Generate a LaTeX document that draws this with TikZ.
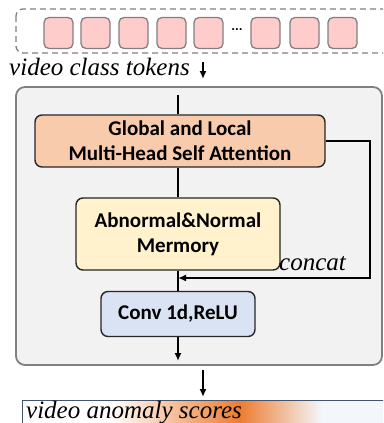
\documentclass[tikz,border=0pt]{standalone}
\usepackage{fontspec}
\setmainfont{Liberation Serif}
\newfontfamily\capfont{Liberation Serif}
\newfontfamily\boxfont{Carlito}
\definecolor{tokenfill}{HTML}{FFCCCC}
\definecolor{attfill}{HTML}{F8CBAD}
\definecolor{memfill}{HTML}{FFF2CC}
\definecolor{convfill}{HTML}{DAE3F3}
\definecolor{panelfill}{HTML}{F2F2F2}
\definecolor{scoreorange}{HTML}{ED7D31}
\definecolor{scoreblue}{HTML}{F3F7FC}
\definecolor{scoreframe}{HTML}{44546A}
\tikzset{
  token/.style={draw=gray, line width=1.3pt, fill=tokenfill, rounded corners=5pt,
    minimum width=29pt, minimum height=31pt, inner sep=0pt},
  block/.style={draw=black!85, line width=1.4pt, rounded corners=7pt, align=center,
    inner sep=0pt, font=\boxfont\bfseries\fontsize{21}{25}\selectfont},
  flow/.style={line width=2pt},
  flowarrow/.style={flow, -{Latex[length=8pt,width=7pt]}},
  caption/.style={font=\capfont\itshape\fontsize{25}{26}\selectfont, inner sep=0pt},
}
\usetikzlibrary{arrows.meta}
\begin{document}
\begin{tikzpicture}[x=1pt,y=-1pt]
      \newcommand\MidX{178}
      \newcommand\OutX{203}
      \clip (0,0) rectangle (383,423);
      % token strip
      \draw[gray, line width=1.3pt, dash pattern=on 6pt off 4pt, rounded corners=7pt]
        (16,9) rectangle (400,53);
      \foreach \x [count=\i] in {44,81,119,157,194,251,290,328}
        \node[token] (t\i) at (\x+14.5,33) {};
      \node[font=\boxfont\bfseries\fontsize{14}{14}\selectfont, inner sep=0pt] (dots) at (237,30) {...};
      \node[caption, anchor=base west] (tokcap) at (9,75) {video class tokens};
      \coordinate (tokin) at (\OutX,62);
      \coordinate (tokout) at (\OutX,79);
      \draw[flowarrow] (tokin) -- (tokout);
      % main panel
      \draw[draw=gray, line width=1.8pt, fill=panelfill, rounded corners=9pt]
        (16,87) rectangle (382,365);
      \node[block, fill=attfill, minimum width=290pt, minimum height=52pt] (att) at (180,141)
        {Global and Local\\Multi-Head Self Attention};
      \node[block, fill=memfill, minimum width=204pt, minimum height=72pt] (mem) at (\MidX,234)
        {Abnormal\&Normal\\Mermory};
      \node[block, fill=convfill, minimum width=154pt, minimum height=45pt] (conv) at (\MidX,314)
        {Conv 1d,ReLU};
      \coordinate (panelin) at (\MidX,95);
      \coordinate (join) at (\MidX,278);
      \coordinate (panelout) at (\MidX,361);
      \draw[flow] (panelin) -- (panelin |- att.north);
      \draw[flow] (panelin |- att.south) -- (mem.north);
      \draw[flow] (mem.south) -- (conv.north);
      \draw[flowarrow] (att.east) -| (370,278) -- (join);
      \node[caption, anchor=base east] (concatlbl) at (346,270) {concat};
      \draw[flowarrow] (conv.south) -- (panelout);
      % score bar
      \coordinate (scorein) at (\OutX,370);
      \coordinate (scoreout) at (\OutX,397);
      \draw[flowarrow] (scorein) -- (scoreout);
      \fill[white] (22,400) rectangle (110,430);
      \shade[left color=white, right color=scoreorange] (110,400) rectangle (240,430);
      \shade[left color=scoreorange, right color=scoreblue] (240,400) rectangle (322,430);
      \fill[scoreblue] (322,400) rectangle (400,430);
      \draw[scoreframe, line width=1pt] (22,430) -- (22,400) -- (400,400);
      \node[caption, anchor=base west] (scorecap) at (26,418) {video anomaly scores};
\end{tikzpicture}
\end{document}
